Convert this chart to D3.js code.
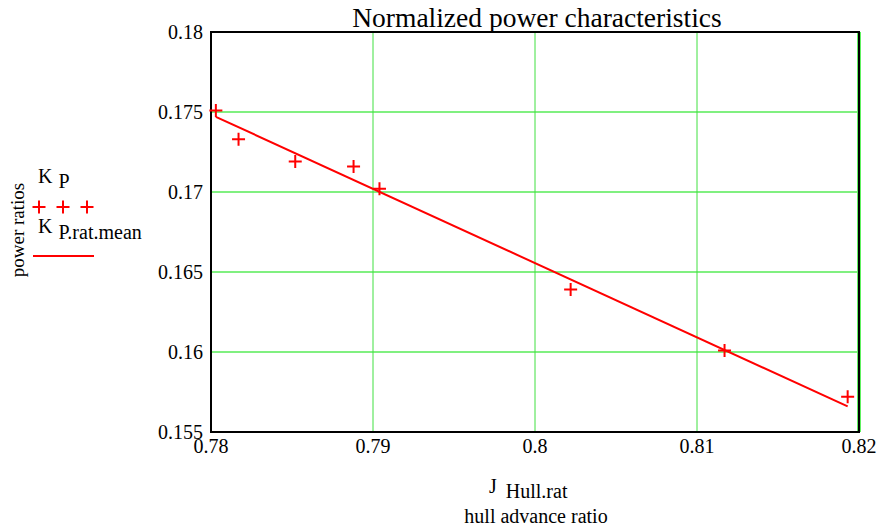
<!DOCTYPE html>
<html>
<head>
<meta charset="utf-8">
<script src="https://cdn.jsdelivr.net/npm/d3@7"></script>
<style>
  body { margin: 0; background: #fff; }
</style>
</head>
<body>
<svg id="chart" width="882" height="531"></svg>
<script>
// measured points
const jHull = [0.7803, 0.7817, 0.7852, 0.7888, 0.7904, 0.8022, 0.8117, 0.8193];
const kP = [0.1751, 0.1733, 0.1719, 0.1716, 0.1702, 0.1639, 0.1601, 0.1572];
// mean fit line (ends)
const meanJ = [0.7803, 0.8193];
const meanK = [0.1747, 0.1566];

const xTicks = [0.78, 0.79, 0.8, 0.81, 0.82];
const yTicks = [0.155, 0.16, 0.165, 0.17, 0.175, 0.18];

const margin = { left: 211, top: 32, right: 23, bottom: 99 };
const width = 882, height = 531;
const serif = "'Liberation Serif', 'Times New Roman', Times, 'DejaVu Serif', serif";

const svg = d3.select("#chart").attr("font-family", serif);

const x = d3.scaleLinear().domain([0.78, 0.82]).range([margin.left, width - margin.right]);
const y = d3.scaleLinear().domain([0.155, 0.18]).range([height - margin.bottom, margin.top]);

// grid
svg.append("g").selectAll("line")
  .data(yTicks.slice(1, -1))
  .enter().append("line")
  .attr("x1", x(0.78)).attr("x2", x(0.82))
  .attr("y1", d => y(d)).attr("y2", d => y(d))
  .attr("stroke", "#80f080").attr("stroke-width", 2);

svg.append("g").selectAll("line")
  .data(xTicks.slice(1))
  .enter().append("line")
  .attr("x1", d => x(d)).attr("x2", d => x(d))
  .attr("y1", y(0.155)).attr("y2", y(0.18))
  .attr("stroke", d => d == 0.82 ? "#60f060" : "#40e040")
  .attr("stroke-width", d => d == 0.82 ? 4 : 1);

// frame
svg.append("rect")
  .attr("x", x(0.78)).attr("y", y(0.18))
  .attr("width", x(0.82) - x(0.78)).attr("height", y(0.155) - y(0.18))
  .attr("fill", "none").attr("stroke", "#000").attr("stroke-width", 2);

// tick labels
svg.append("g").selectAll("text")
  .data(yTicks)
  .enter().append("text")
  .attr("x", margin.left - 8)
  .attr("y", d => y(d) + 7)
  .attr("text-anchor", "end")
  .style("font-size", "20px")
  .text(d => d);

svg.append("g").selectAll("text")
  .data(xTicks)
  .enter().append("text")
  .attr("x", d => x(d))
  .attr("y", height - margin.bottom + 21)
  .attr("text-anchor", "middle")
  .style("font-size", "20px")
  .text(d => d);

// mean line
const line = d3.line().x(d => x(d[0])).y(d => y(d[1]));
svg.append("path")
  .datum(meanJ.map((j, i) => [j, meanK[i]]))
  .attr("d", line)
  .attr("fill", "none")
  .attr("stroke", "#ff0000")
  .attr("stroke-width", 2);

// plus markers
const crossPath = s => `M${-s},0H${s}M0,${-s}V${s}`;
svg.append("g").selectAll("path")
  .data(jHull.map((j, i) => [j, kP[i]]))
  .enter().append("path")
  .attr("transform", d => `translate(${x(d[0])},${y(d[1])})`)
  .attr("d", crossPath(6.5))
  .attr("stroke", "#ff0000")
  .attr("stroke-width", 2)
  .attr("fill", "none");

// title
svg.append("text")
  .attr("x", (x(0.78) + x(0.82)) / 2 + 2)
  .attr("y", 27)
  .attr("text-anchor", "middle")
  .style("font-size", "27.5px")
  .text("Normalized power characteristics");

// y title
svg.append("text")
  .attr("transform", "translate(24,230) rotate(-90)")
  .attr("text-anchor", "middle")
  .style("font-size", "19px")
  .text("power ratios");

// legend
const leg = svg.append("g");
const k1 = leg.append("text").attr("x", 38).attr("y", 183).style("font-size", "20px");
k1.append("tspan").text("K");
k1.append("tspan").attr("dx", 6).attr("dy", 5).text("P");
leg.selectAll(".lp")
  .data([39, 63, 87])
  .enter().append("path")
  .attr("transform", d => `translate(${d},207)`)
  .attr("d", crossPath(6.5))
  .attr("stroke", "#ff0000").attr("stroke-width", 2).attr("fill", "none");
const k2 = leg.append("text").attr("x", 38).attr("y", 233).style("font-size", "20px");
k2.append("tspan").text("K");
k2.append("tspan").attr("dx", 6).attr("dy", 6).text("P.rat.mean");
leg.append("line")
  .attr("x1", 33).attr("x2", 94).attr("y1", 256).attr("y2", 256)
  .attr("stroke", "#ff0000").attr("stroke-width", 2);

// x title
const jt = svg.append("text").attr("x", 489).attr("y", 493).style("font-size", "20px");
jt.append("tspan").text("J");
jt.append("tspan").attr("dx", 9).attr("dy", 5).text("Hull.rat");
svg.append("text")
  .attr("x", 536).attr("y", 523)
  .attr("text-anchor", "middle")
  .style("font-size", "20px")
  .text("hull advance ratio");
</script>
</body>
</html>
